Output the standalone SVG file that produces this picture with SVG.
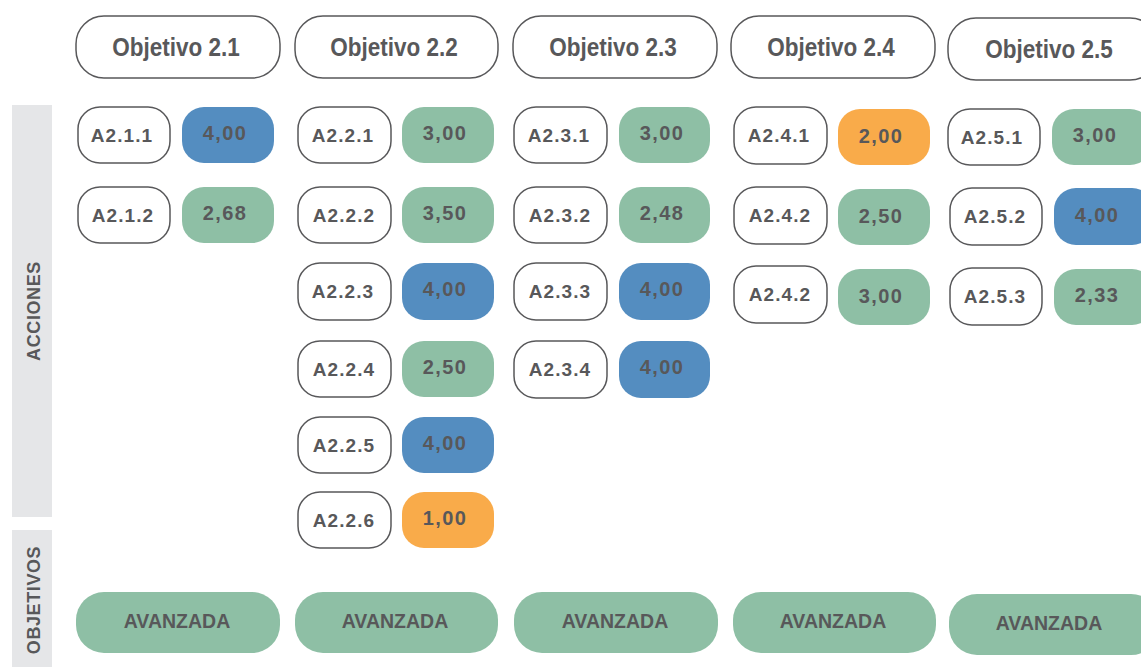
<svg xmlns="http://www.w3.org/2000/svg" width="1141" height="667" viewBox="0 0 1141 667">
<style>
.bg{fill:#ffffff}
.bar{fill:#e5e6e8}
.hdr{fill:#ffffff;stroke:#58585a;stroke-width:1.5}
.lbl{fill:#ffffff;stroke:#58585a;stroke-width:1.5}
.blue{fill:#548dc0}
.green{fill:#8ebfa5}
.orange{fill:#f9ab4a}
text{font-family:"Liberation Sans",Arial,sans-serif;font-weight:bold;fill:#58585a;text-anchor:middle}
.th{font-size:25px}
.tl{font-size:19px;letter-spacing:1.1px}
.tv{font-size:20px;letter-spacing:1.4px}
.ta{font-size:19.5px}
.tside{font-size:18px;letter-spacing:0.6px}
</style>
<rect class="bg" x="0" y="0" width="1141" height="667"/>
<g id="side">
<rect class="bar" x="12" y="105" width="40" height="412"/>
<rect class="bar" x="12" y="530" width="40" height="137"/>
<text class="tside" transform="translate(40,311) rotate(-90)">ACCIONES</text>
<text class="tside" transform="translate(40,600) rotate(-90)">OBJETIVOS</text>
</g>
<g id="objectives">
<g id="obj21"><rect class="hdr" x="76" y="16" width="204" height="62" rx="28"/><text class="th" transform="translate(176,56) scale(0.9,1)">Objetivo 2.1</text></g>
<g id="obj22"><rect class="hdr" x="295" y="16" width="203" height="62" rx="28"/><text class="th" transform="translate(394,56) scale(0.9,1)">Objetivo 2.2</text></g>
<g id="obj23"><rect class="hdr" x="513" y="16" width="204" height="62" rx="28"/><text class="th" transform="translate(613,56) scale(0.9,1)">Objetivo 2.3</text></g>
<g id="obj24"><rect class="hdr" x="731" y="16" width="204" height="62" rx="28"/><text class="th" transform="translate(831,56) scale(0.9,1)">Objetivo 2.4</text></g>
<g id="obj25"><rect class="hdr" x="948" y="18" width="210" height="62" rx="28"/><text class="th" transform="translate(1049,58) scale(0.9,1)">Objetivo 2.5</text></g>
</g>
<g id="actions">
<g id="a211"><rect class="lbl" x="78" y="107" width="92" height="56" rx="22"/><text class="tl" x="122" y="142">A2.1.1</text><rect class="blue" x="182" y="107" width="92" height="56" rx="22"/><text class="tv" x="225" y="140">4,00</text></g>
<g id="a212"><rect class="lbl" x="78" y="187" width="92" height="56" rx="22"/><text class="tl" x="123" y="222">A2.1.2</text><rect class="green" x="182" y="187" width="92" height="56" rx="22"/><text class="tv" x="225" y="220">2,68</text></g>

<g id="a221"><rect class="lbl" x="298" y="107" width="93" height="56" rx="22"/><text class="tl" x="343" y="142">A2.2.1</text><rect class="green" x="402" y="107" width="92" height="56" rx="22"/><text class="tv" x="445" y="140">3,00</text></g>
<g id="a222"><rect class="lbl" x="298" y="187" width="93" height="56" rx="22"/><text class="tl" x="344" y="222">A2.2.2</text><rect class="green" x="402" y="187" width="92" height="56" rx="22"/><text class="tv" x="445" y="220">3,50</text></g>
<g id="a223"><rect class="lbl" x="298" y="263" width="93" height="57" rx="22"/><text class="tl" x="343" y="298">A2.2.3</text><rect class="blue" x="402" y="263" width="92" height="57" rx="22"/><text class="tv" x="445" y="296">4,00</text></g>
<g id="a224"><rect class="lbl" x="298" y="341" width="93" height="56" rx="22"/><text class="tl" x="344" y="376">A2.2.4</text><rect class="green" x="402" y="341" width="92" height="56" rx="22"/><text class="tv" x="445" y="374">2,50</text></g>
<g id="a225"><rect class="lbl" x="298" y="417" width="93" height="56" rx="22"/><text class="tl" x="344" y="452">A2.2.5</text><rect class="blue" x="402" y="417" width="92" height="56" rx="22"/><text class="tv" x="445" y="450">4,00</text></g>
<g id="a226"><rect class="lbl" x="298" y="492" width="93" height="56" rx="22"/><text class="tl" x="344" y="527">A2.2.6</text><rect class="orange" x="402" y="492" width="92" height="56" rx="22"/><text class="tv" x="445" y="525">1,00</text></g>

<g id="a231"><rect class="lbl" x="514" y="107" width="93" height="56" rx="22"/><text class="tl" x="559" y="142">A2.3.1</text><rect class="green" x="619" y="107" width="91" height="56" rx="22"/><text class="tv" x="662" y="140">3,00</text></g>
<g id="a232"><rect class="lbl" x="514" y="187" width="93" height="56" rx="22"/><text class="tl" x="560" y="222">A2.3.2</text><rect class="green" x="619" y="187" width="91" height="56" rx="22"/><text class="tv" x="662" y="220">2,48</text></g>
<g id="a233"><rect class="lbl" x="514" y="263" width="93" height="57" rx="22"/><text class="tl" x="560" y="298">A2.3.3</text><rect class="blue" x="619" y="263" width="91" height="57" rx="22"/><text class="tv" x="662" y="296">4,00</text></g>
<g id="a234"><rect class="lbl" x="514" y="341" width="93" height="57" rx="22"/><text class="tl" x="560" y="376">A2.3.4</text><rect class="blue" x="619" y="341" width="91" height="57" rx="22"/><text class="tv" x="662" y="374">4,00</text></g>

<g id="a241"><rect class="lbl" x="734" y="107" width="93" height="57" rx="22"/><text class="tl" x="779" y="142">A2.4.1</text><rect class="orange" x="838" y="109" width="92" height="56" rx="22"/><text class="tv" x="881" y="143">2,00</text></g>
<g id="a242"><rect class="lbl" x="734" y="187" width="93" height="57" rx="22"/><text class="tl" x="780" y="222">A2.4.2</text><rect class="green" x="838" y="189" width="92" height="56" rx="22"/><text class="tv" x="881" y="223">2,50</text></g>
<g id="a243"><rect class="lbl" x="734" y="266" width="93" height="57" rx="22"/><text class="tl" x="780" y="301">A2.4.2</text><rect class="green" x="838" y="269" width="92" height="56" rx="22"/><text class="tv" x="881" y="303">3,00</text></g>

<g id="a251"><rect class="lbl" x="948" y="109" width="92" height="56" rx="22"/><text class="tl" x="992" y="144">A2.5.1</text><rect class="green" x="1052" y="109" width="100" height="56" rx="22"/><text class="tv" x="1095" y="142">3,00</text></g>
<g id="a252"><rect class="lbl" x="950" y="188" width="92" height="57" rx="22"/><text class="tl" x="995" y="223">A2.5.2</text><rect class="blue" x="1054" y="188" width="100" height="57" rx="22"/><text class="tv" x="1097" y="222">4,00</text></g>
<g id="a253"><rect class="lbl" x="950" y="268" width="92" height="57" rx="22"/><text class="tl" x="995" y="303">A2.5.3</text><rect class="green" x="1054" y="269" width="100" height="56" rx="22"/><text class="tv" x="1097" y="302">2,33</text></g>
</g>
<g id="status">
<g id="s21"><rect class="green" x="76" y="592" width="204" height="61" rx="28"/><text class="ta" x="177" y="628">AVANZADA</text></g>
<g id="s22"><rect class="green" x="295" y="592" width="203" height="61" rx="28"/><text class="ta" x="395" y="628">AVANZADA</text></g>
<g id="s23"><rect class="green" x="514" y="592" width="204" height="61" rx="28"/><text class="ta" x="615" y="628">AVANZADA</text></g>
<g id="s24"><rect class="green" x="733" y="592" width="203" height="61" rx="28"/><text class="ta" x="833" y="628">AVANZADA</text></g>
<g id="s25"><rect class="green" x="949" y="594" width="210" height="61" rx="28"/><text class="ta" x="1049" y="630">AVANZADA</text></g>
</g>
<g id="connectors"/>
</svg>
